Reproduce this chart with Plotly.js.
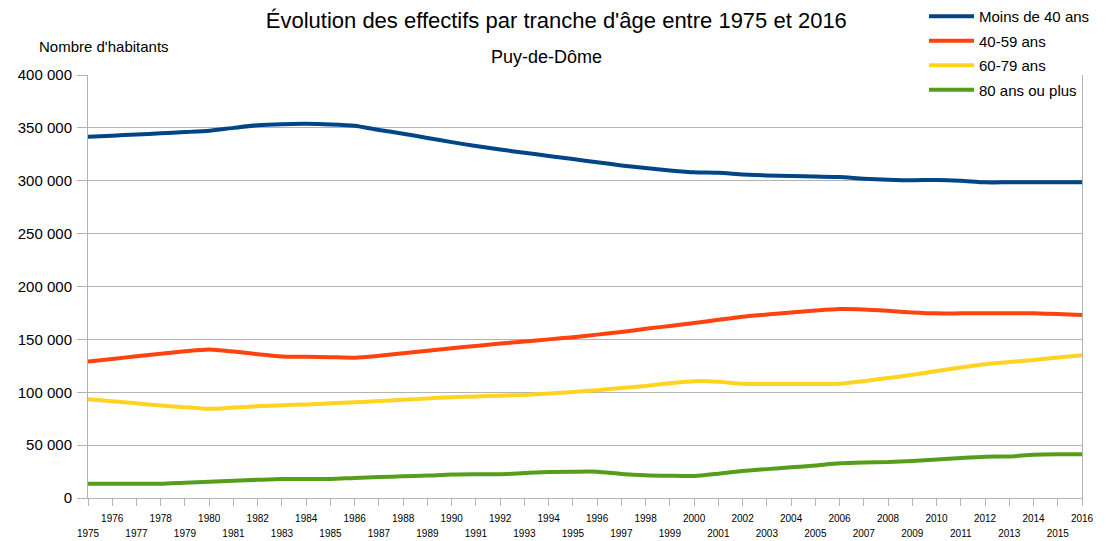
<!DOCTYPE html>
<html><head><meta charset="utf-8">
<script src="https://cdn.plot.ly/plotly-3.0.1.min.js"></script>
<style>html,body{margin:0;padding:0;background:#fff}#chart{width:1106px;height:541px}</style>
</head><body><div id="chart"></div>
<script>
const years = [];
for (let y = 1975; y <= 2016; y++) years.push(y);

const moins40 = [341.5,342.6,343.7,344.8,346,347.3,350,352.5,353.5,353.8,353.3,352,348,344.5,340.5,336.5,332.8,329.5,326.5,323.5,320.5,317.5,314.5,312,309.8,308,307.5,306,305,304.5,304,303.5,302,301,300.5,300.8,300,298.5,298.5,298.5,298.5,298.5];
const a40_59 = [129,131.5,134,136.5,138.8,140.5,138.5,136,133.8,133.5,133.2,132.7,134.5,136.8,139.2,141.7,143.8,146,148,150,152,154.5,157,160,162.7,165.5,168.5,171.5,173.5,175.5,177.3,178.7,178.3,177,175.5,174.6,174.6,174.6,174.6,174.6,174,173];
const a60_79 = [93.5,91.5,89.5,87.5,85.8,84.3,85.5,86.8,87.8,88.5,89.5,90.5,91.7,92.9,94.1,95.3,96,96.8,97.5,98.8,100.2,102,104,106,108.5,110.5,110,108,107.8,107.8,107.8,108,110.5,113.5,116.5,120,123.5,126.5,128.5,130.5,132.8,135];
const a80plus = [13.5,13.5,13.5,13.5,14.5,15.4,16.3,17.2,18,18,18,19,19.8,20.5,21.2,22.2,22.4,22.4,23.6,24.7,24.9,24.9,22.8,21.5,21,20.8,23,25.5,27.3,29,30.8,32.8,33.6,34,35,36.3,37.8,39,39.3,40.8,41.3,41.3];

const seriesNames = ['Moins de 40 ans','40-59 ans','60-79 ans','80 ans ou plus'];
const seriesData = [moins40, a40_59, a60_79, a80plus];
const colors = ['#004586','#ff420e','#ffd320','#579d1c'];

const oddYears = years.filter(y => y % 2 === 1);

const traces = seriesData.map((d, i) => ({
  x: years,
  y: d.map(v => v * 1000),
  type: 'scatter',
  mode: 'lines',
  name: seriesNames[i],
  legendgroup: 'g' + i,
  line: {color: colors[i], width: 4, shape: 'spline', smoothing: 0.6},
  hoverinfo: 'x+y'
}));
// invisible carrier trace so the second (odd-year) label axis is drawn
traces.push({
  x: oddYears, y: oddYears.map(() => null),
  xaxis: 'x2', yaxis: 'y', type: 'scatter', mode: 'lines',
  showlegend: false, hoverinfo: 'skip'
});

const gridColor = '#b3b3b3';
const font = 'Liberation Sans, Arial, sans-serif';

// paper area: x 88..1082 px, y 0..498 px ; y axis occupies 75..498 px
const W = 994, H = 498;
const px = p => (p - 88) / W;
const py = p => (H - p) / H;

const layout = {
  width: 1106, height: 541,
  margin: {l: 88, r: 24, t: 0, b: 43},
  paper_bgcolor: '#ffffff', plot_bgcolor: '#ffffff',
  separators: ', ',
  font: {family: font, color: '#000000'},
  showlegend: true,
  title: {text: "Évolution des effectifs par tranche d'âge entre 1975 et 2016",
    font: {size: 22, family: font, color: '#000'},
    xref: 'container', x: 0.503, xanchor: 'center',
    yref: 'container', y: 0.962, yanchor: 'middle'},
  legend: {xref: 'paper', yref: 'paper',
    x: px(924), xanchor: 'left', y: 1.0, yanchor: 'top',
    font: {size: 15, family: font, color: '#000'},
    bgcolor: 'rgba(0,0,0,0)', borderwidth: 0, itemwidth: 45,
    traceorder: 'grouped', tracegroupgap: 2},
  xaxis: {
    type: 'linear', range: [1975, 2016],
    tickmode: 'array', tickvals: years,
    ticktext: years.map(y => y % 2 === 0 ? String(y) : ''),
    ticks: 'outside', ticklen: 7, tickcolor: gridColor, tickwidth: 1,
    ticklabelstandoff: 4,
    tickfont: {size: 10, family: font, color: '#000'},
    showgrid: false, zeroline: false,
    showline: true, linecolor: gridColor, linewidth: 1,
    fixedrange: true
  },
  xaxis2: {
    overlaying: 'x', anchor: 'y', side: 'bottom',
    type: 'linear', range: [1975, 2016],
    tickmode: 'array', tickvals: oddYears, ticktext: oddYears.map(String),
    ticks: '', ticklabelstandoff: 28,
    tickfont: {size: 10, family: font, color: '#000'},
    showgrid: false, zeroline: false, showline: false,
    fixedrange: true
  },
  yaxis: {
    domain: [0, 423 / H],
    range: [0, 400000], dtick: 50000, tick0: 0,
    tickformat: ',d',
    ticks: 'outside', ticklen: 10, tickcolor: gridColor,
    ticklabelstandoff: 2,
    tickfont: {size: 15, family: font, color: '#000'},
    showgrid: true, gridcolor: gridColor, gridwidth: 1,
    zeroline: false,
    showline: true, linecolor: gridColor, linewidth: 1, mirror: true,
    fixedrange: true
  },
  annotations: [
    {text: 'Puy-de-Dôme', xref: 'paper', yref: 'paper', x: px(546), y: py(57),
     xanchor: 'center', yanchor: 'middle', showarrow: false,
     font: {size: 18, family: font, color: '#000'}},
    {text: "Nombre d'habitants", xref: 'paper', yref: 'paper', x: px(37), y: py(47),
     xanchor: 'left', yanchor: 'middle', showarrow: false,
     font: {size: 15, family: font, color: '#000'}}
  ]
};

Plotly.newPlot('chart', traces, layout, {displayModeBar: false, staticPlot: true});
</script>
</body></html>
